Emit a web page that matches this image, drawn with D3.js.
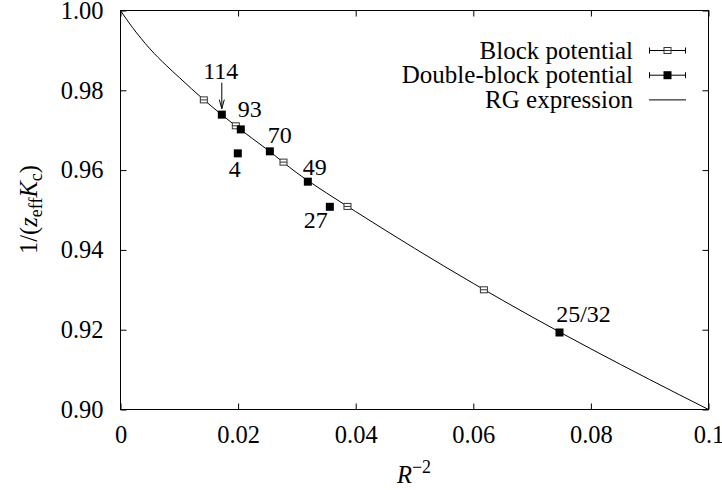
<!DOCTYPE html>
<meta charset="utf-8">
<style>
body { margin: 0; background: #fff; }
svg text {
    font-family: "Liberation Serif", Tinos, "Times New Roman", Times, "DejaVu Serif", serif;
    fill: #000;
}
.tick-label { font-size: 24.5px; }
.legend-text { font-size: 25px; }
.pt-label { font-size: 24px; }
.axis-title { font-size: 24.5px; }
.rg-line {
    fill: none;
    stroke: #000;
    stroke-width: 1px;
}
</style>
<svg width="722" height="490" id="svg" font-family="Liberation Serif, serif"></svg>
<script src="https://cdn.jsdelivr.net/npm/d3@7"></script>
<script>

// block potential (open squares)
const blockX = [0.01417, 0.01961, 0.02772, 0.0386, 0.0618];
const blockY = [0.9776, 0.9711, 0.9620, 0.9509, 0.9300];

// double-block potential (filled squares) and their labels
const doubleX = [0.01723, 0.02046, 0.01995, 0.0254, 0.03186, 0.0356, 0.07466];
const doubleY = [0.9739, 0.9702, 0.9642, 0.9647, 0.9571, 0.9508, 0.9193];
const doubleLabels = ['114', '93', '4', '70', '49', '27', '25/32'];

// RG expression
const curveX = [0, 0.002, 0.0035, 0.005, 0.0078, 0.01, 0.0142, 0.0172, 0.02, 0.025, 0.03, 0.035, 0.04, 0.05, 0.06, 0.07, 0.08, 0.09, 0.1];
const curveY = [1.0, 0.9958, 0.9930, 0.9904, 0.9862, 0.9832, 0.9776, 0.9739, 0.9706, 0.9651, 0.9593, 0.9543, 0.9496, 0.9404, 0.9316, 0.9232, 0.9152, 0.9075, 0.9];

const xTicks = [0, 0.02, 0.04, 0.06, 0.08, 0.1];
const xTickLabels = ['0', '0.02', '0.04', '0.06', '0.08', '0.1'];
const yTicks = [0.90, 0.92, 0.94, 0.96, 0.98, 1.00];
const yTickLabels = ['0.90', '0.92', '0.94', '0.96', '0.98', '1.00'];

const legendNames = ['Block potential', 'Double-block potential', 'RG expression'];

// pixel offsets of the point labels (dx, dy of baseline centre)
const labelOffsets = [[-1, -36], [9, -12], [-3, 24], [10, -8], [7, -7], [-14, 21], [24, -10]];

const serif = '"Liberation Serif", Tinos, "Times New Roman", Times, "DejaVu Serif", serif';

function translate(x, y) {
    return 'translate(' + x + ',' + y + ')';
}

let svg = d3.select('#svg');
let margin = {top: 10, right: 14, bottom: 81, left: 120},
    width = 722 - margin.left - margin.right,
    height = 490 - margin.top - margin.bottom;

let g = svg.append('g').attr('transform', translate(margin.left + 0.5, margin.top + 0.5));

let x = d3.scaleLinear().domain([0, 0.1]).range([0, width]);
let y = d3.scaleLinear().domain([0.9, 1.0]).range([height, 0]);

// axes, ticks pointing inward on all four sides
let xAxis = d3.axisBottom(x).tickValues(xTicks).tickFormat((d, i) => xTickLabels[i])
    .tickSizeInner(-6).tickSizeOuter(0).tickPadding(16);
let yAxis = d3.axisLeft(y).tickValues(yTicks).tickFormat((d, i) => yTickLabels[i])
    .tickSizeInner(-6).tickSizeOuter(0).tickPadding(17);

g.append('g').attr('class', 'axis axis--x')
    .attr('transform', translate(0, height))
    .call(xAxis);
g.append('g').attr('class', 'axis axis--y')
    .call(yAxis);
g.append('g').attr('transform', translate(0, 0))
    .call(d3.axisTop(x).tickValues(xTicks).tickFormat('').tickSizeInner(-6).tickSizeOuter(0));
g.append('g').attr('transform', translate(width, 0))
    .call(d3.axisRight(y).tickValues(yTicks).tickFormat('').tickSizeInner(-6).tickSizeOuter(0));

g.selectAll('.axis').attr('font-family', null).attr('font-size', null);
g.selectAll('.tick text').attr('class', 'tick-label');
g.selectAll('.domain').remove();
g.selectAll('.tick line').attr('stroke', '#000');

g.append('rect')
    .attr('width', width)
    .attr('height', height)
    .attr('fill', 'none')
    .attr('stroke', '#000')
    .attr('stroke-width', 1);

// RG curve
let curve = curveX.map((d, i) => ({x: d, y: curveY[i]}));
let line = d3.line()
    .curve(d3.curveMonotoneX)
    .x(d => x(d.x))
    .y(d => y(d.y));

g.append('path')
    .datum(curve)
    .attr('class', 'rg-line')
    .attr('d', line);

// block potential points
let block = blockX.map((d, i) => ({x: d, y: blockY[i]}));
let bg = g.selectAll('.block').data(block).enter().append('g')
    .attr('class', 'block')
    .attr('transform', d => translate(x(d.x), y(d.y)));
bg.append('rect')
    .attr('x', -3.5).attr('y', -3)
    .attr('width', 7).attr('height', 6)
    .attr('fill', '#fff').attr('stroke', '#333').attr('stroke-width', 1);
bg.append('line')
    .attr('x1', -3.5).attr('x2', 3.5)
    .attr('stroke', '#333').attr('stroke-width', 1);

// double-block points
let dbl = doubleX.map((d, i) => ({x: d, y: doubleY[i], label: doubleLabels[i], off: labelOffsets[i]}));
let dg = g.selectAll('.dbl').data(dbl).enter().append('g')
    .attr('class', 'dbl')
    .attr('transform', d => translate(x(d.x), y(d.y)));
dg.append('rect')
    .attr('x', -4).attr('y', -4)
    .attr('width', 8).attr('height', 8)
    .attr('fill', '#000');
dg.append('text')
    .attr('class', 'pt-label')
    .attr('text-anchor', 'middle')
    .attr('x', d => d.off[0])
    .attr('y', d => d.off[1])
    .text(d => d.label);

// arrow for the 114 label
let a = dbl[0];
g.append('path')
    .attr('transform', translate(x(a.x), y(a.y)))
    .attr('d', 'M0,-32L0,-6M-2.5,-15L0,-6L2.5,-15')
    .attr('fill', 'none')
    .attr('stroke', '#000')
    .attr('stroke-width', 1);

// axis titles
let yt = svg.append('text')
    .attr('class', 'axis-title')
    .attr('text-anchor', 'middle')
    .attr('transform', translate(37, margin.top + height / 2) + ' rotate(-90)');
yt.append('tspan').text('1/(');
yt.append('tspan').attr('font-style', 'italic').text('z');
yt.append('tspan').attr('dy', 5).style('font-size', '18px').text('eff');
yt.append('tspan').attr('dy', -5).attr('font-style', 'italic').text('K');
yt.append('tspan').attr('dy', 5).style('font-size', '18px').text('c');
yt.append('tspan').attr('dy', -5).text(')');

let xt = svg.append('text')
    .attr('class', 'axis-title')
    .attr('text-anchor', 'middle')
    .attr('transform', translate(margin.left + width / 2, 483));
xt.append('tspan').attr('font-style', 'italic').text('R');
xt.append('tspan').attr('dy', -10).style('font-size', '18px').text('\u22122');

// legend
let legend = svg.append('g').attr('transform', translate(0, 0));
let rows = legend.selectAll('g').data(legendNames).enter().append('g')
    .attr('transform', (d, i) => translate(0, 50.5 + i * 24.7));
rows.append('text')
    .attr('class', 'legend-text')
    .attr('text-anchor', 'end')
    .attr('x', 633)
    .attr('y', 8)
    .text(d => d);
rows.append('line')
    .attr('x1', 649).attr('x2', 686)
    .attr('stroke', '#000').attr('stroke-width', 1);
rows.filter((d, i) => i < 2).each(function(d, i) {
    let r = d3.select(this);
    r.append('line').attr('x1', 649.5).attr('x2', 649.5).attr('y1', -3).attr('y2', 3).attr('stroke', '#000');
    r.append('line').attr('x1', 685.5).attr('x2', 685.5).attr('y1', -3).attr('y2', 3).attr('stroke', '#000');
    if (i === 0) {
        r.append('rect').attr('x', 664).attr('y', -3).attr('width', 7).attr('height', 6)
            .attr('fill', '#fff').attr('stroke', '#333');
        r.append('line').attr('x1', 664).attr('x2', 671).attr('stroke', '#333');
    } else {
        r.append('rect').attr('x', 663.5).attr('y', -4).attr('width', 8).attr('height', 8)
            .attr('fill', '#000');
    }
});

// make sure every text uses the serif face
svg.selectAll('text').style('font-family', serif);

</script>
